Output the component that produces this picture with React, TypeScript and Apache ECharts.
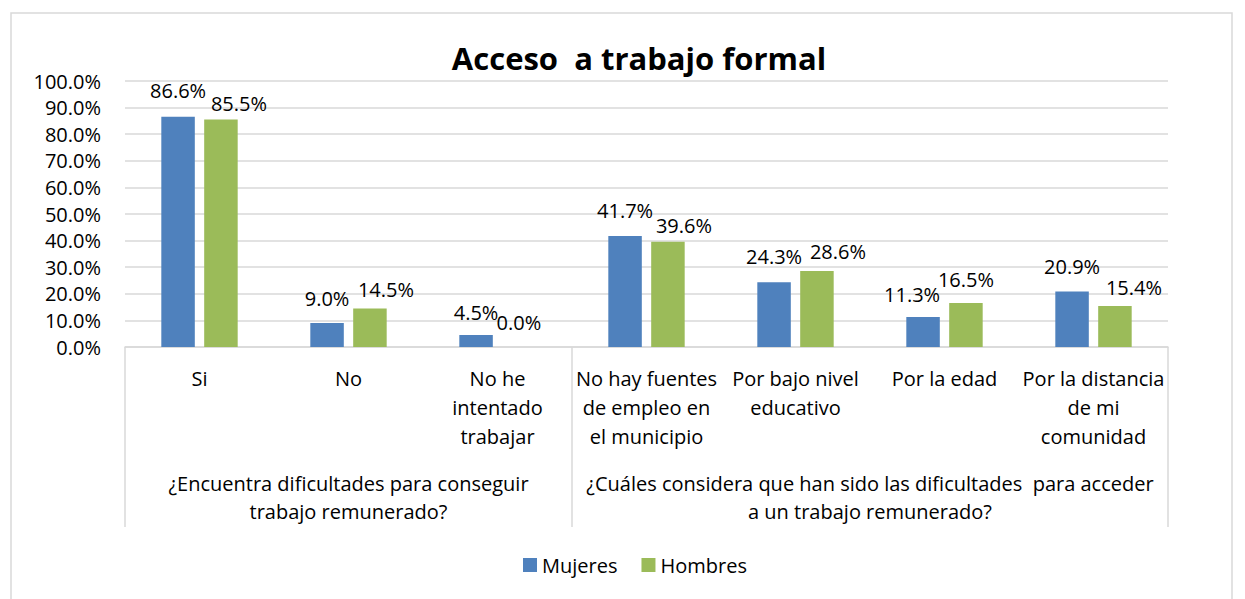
import { useEffect, useRef } from 'react';
import * as echarts from 'echarts';

const categories = [
  'Si',
  'No',
  'No he\nintentado\ntrabajar',
  'No hay fuentes\nde empleo en\nel municipio',
  'Por bajo nivel\neducativo',
  'Por la edad',
  'Por la distancia\nde mi\ncomunidad',
];
const groupLabels = [
  '¿Encuentra dificultades para conseguir\ntrabajo remunerado?',
  '¿Cuáles considera que han sido las dificultades  para acceder\na un trabajo remunerado?',
];
const groupSizes = [3, 4];
const mujeres = [86.6, 9.0, 4.5, 41.7, 24.3, 11.3, 20.9];
const hombres = [85.5, 14.5, 0.0, 39.6, 28.6, 16.5, 15.4];
const seriesNames = ['Mujeres', 'Hombres'];
const yMin = 0;
const yMax = 100;
const yStep = 10;

// label nudges (dx, dy) to match the reference's placement
const mujeresLabelNudge = [[0, -1], [0, 0], [0, 2], [0, -1], [0, -1], [-11, 3], [0, 0]];
const hombresLabelNudge = [[18, 9], [16, 6], [0, 0], [16, 9], [21, 6], [0, 1], [19, 6]];

const FONT = "'Open Sans', sans-serif";

export default function App() {
  const ref = useRef<HTMLDivElement>(null);
  useEffect(() => {
    if (!ref.current) return;
    const chart = echarts.init(ref.current, null, { renderer: 'svg' });

    const boundaries: number[] = [0];
    const centers: number[] = [];
    groupSizes.forEach((s) => {
      const start = boundaries[boundaries.length - 1];
      centers.push(start + s / 2);
      boundaries.push(start + s);
    });

    const fmt = (v: number) => v.toFixed(1) + '%';
    const labelBase = {
      show: true,
      position: 'top',
      distance: 15,
      fontSize: 20,
      fontFamily: FONT,
      color: '#000',
      formatter: (p: any) => fmt(Number(p.value)),
    };

    chart.setOption({
      animation: false,
      backgroundColor: '#fff',
      color: ['#4f81bd', '#9bbb59'],
      graphic: [
        {
          type: 'rect',
          shape: { x: 11, y: 13, width: 1221, height: 600 },
          style: { fill: 'none', stroke: '#d9d9d9', lineWidth: 1.5 },
          silent: true,
        },
        {
          type: 'text',
          x: 639,
          y: 58,
          style: {
            text: 'Acceso  a trabajo formal',
            fontFamily: FONT,
            fontSize: 31,
            fontWeight: 'bold',
            fill: '#000',
            textAlign: 'center',
            textVerticalAlign: 'middle',
          },
        },
      ],
      legend: {
        data: seriesNames,
        left: 518,
        top: 550,
        itemWidth: 14,
        itemHeight: 14,
        itemGap: 24,
        icon: 'rect',
        textStyle: { fontSize: 20, fontFamily: FONT, color: '#000', padding: [0, 0, 0, 0] },
      },
      grid: { left: 125, right: 77, top: 81, bottom: 252, containLabel: false },
      xAxis: [
        {
          type: 'category',
          data: categories,
          axisLine: { show: true, lineStyle: { color: '#d9d9d9', width: 1.5 } },
          axisTick: { show: false },
          axisLabel: {
            interval: 0,
            margin: 17,
            fontSize: 20,
            lineHeight: 29,
            fontFamily: FONT,
            color: '#000',
            align: 'center',
          },
        },
        {
          type: 'value',
          position: 'bottom',
          min: 0,
          max: categories.length,
          axisLine: { show: false },
          splitLine: { show: false },
          axisTick: {
            show: true,
            customValues: boundaries,
            length: 180,
            lineStyle: { color: '#d9d9d9', width: 1.5 },
          },
          axisLabel: {
            customValues: centers,
            margin: 122,
            fontSize: 20,
            lineHeight: 28,
            fontFamily: FONT,
            color: '#000',
            align: 'center',
            formatter: (v: number) => {
              const idx = centers.findIndex((c) => Math.abs(c - v) < 1e-6);
              return idx >= 0 ? groupLabels[idx] : '';
            },
          },
        },
      ],
      yAxis: {
        type: 'value',
        min: yMin,
        max: yMax,
        interval: yStep,
        axisLine: { show: false },
        axisTick: { show: false },
        splitLine: { lineStyle: { color: '#d9d9d9', width: 1.5 } },
        axisLabel: {
          margin: 24,
          fontSize: 20,
          fontFamily: FONT,
          color: '#000',
          formatter: (v: number) => fmt(v),
        },
      },
      series: [
        {
          name: seriesNames[0],
          type: 'bar',
          xAxisIndex: 0,
          barWidth: 33.5,
          barGap: '28%',
          label: labelBase,
          data: mujeres.map((v, i) => ({ value: v, label: { offset: mujeresLabelNudge[i] } })),
        },
        {
          name: seriesNames[1],
          type: 'bar',
          xAxisIndex: 0,
          barWidth: 33.5,
          barGap: '28%',
          label: labelBase,
          data: hombres.map((v, i) => ({ value: v, label: { offset: hombresLabelNudge[i] } })),
        },
      ],
    });
    return () => chart.dispose();
  }, []);

  return (
    <div
      ref={ref}
      style={{ position: 'fixed', left: 0, top: 0, width: 1245, height: 599, background: '#fff' }}
    />
  );
}
